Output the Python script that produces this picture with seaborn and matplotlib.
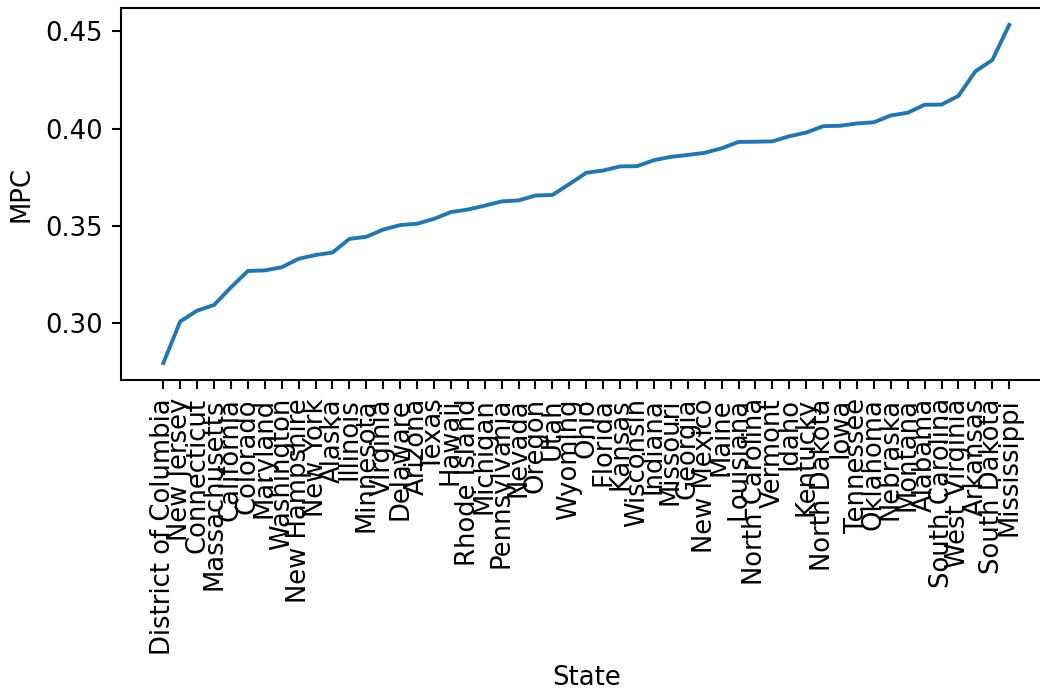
import matplotlib
matplotlib.use("Agg")
import matplotlib.pyplot as plt
from matplotlib.ticker import MultipleLocator
import seaborn as sns
import pandas as pd

states = [
    "District of Columbia", "New Jersey", "Connecticut", "Massachusetts", "California",
    "Colorado", "Maryland", "Washington", "New Hampshire", "New York", "Alaska",
    "Illinois", "Minnesota", "Virginia", "Delaware", "Arizona", "Texas", "Hawaii",
    "Rhode Island", "Michigan", "Pennsylvania", "Nevada", "Oregon", "Utah", "Wyoming",
    "Ohio", "Florida", "Kansas", "Wisconsin", "Indiana", "Missouri", "Georgia",
    "New Mexico", "Maine", "Louisiana", "North Carolina", "Vermont", "Idaho",
    "Kentucky", "North Dakota", "Iowa", "Tennessee", "Oklahoma", "Nebraska",
    "Montana", "Alabama", "South Carolina", "West Virginia", "Arkansas",
    "South Dakota", "Mississippi",
]
mpc = [
    0.2793, 0.3007, 0.3063, 0.3092, 0.3183, 0.3267, 0.3270, 0.3286, 0.3330, 0.3349,
    0.3362, 0.3432, 0.3443, 0.3480, 0.3503, 0.3510, 0.3535, 0.3570, 0.3583, 0.3603,
    0.3625, 0.3630, 0.3655, 0.3658, 0.3714, 0.3772, 0.3784, 0.3805, 0.3806, 0.3837,
    0.3854, 0.3864, 0.3875, 0.3898, 0.3931, 0.3932, 0.3934, 0.3960, 0.3979, 0.4012,
    0.4014, 0.4026, 0.4032, 0.4067, 0.4081, 0.4122, 0.4123, 0.4168, 0.4294, 0.4352,
    0.4533,
]

df = pd.DataFrame({"State": states, "MPC": mpc})

DPI = 186
fig = plt.figure(figsize=(1040 / DPI, 694 / DPI), dpi=DPI)
ax = fig.add_axes([121 / 1040, 1 - 380 / 694, (1051.5 - 121) / 1040, (380 - 8) / 694])
sns.lineplot(data=df, x="State", y="MPC", sort=False, ax=ax, color="#1f77b4", linewidth=1.5)
ax.yaxis.set_major_locator(MultipleLocator(0.05))
ax.tick_params(axis="x", labelrotation=90)
ax.set_xlabel("State")
ax.set_ylabel("MPC")
fig.savefig("out.png", dpi=DPI)
